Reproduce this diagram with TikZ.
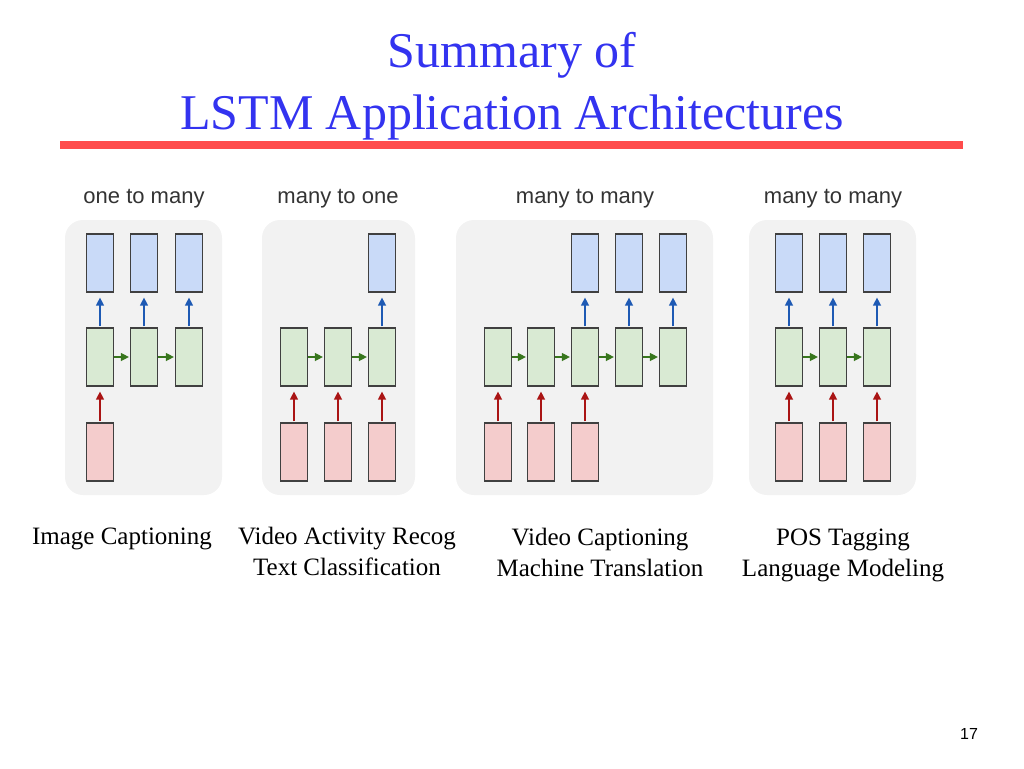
\documentclass[tikz,border=0pt]{standalone}
\usepackage{fontspec}
\setmainfont{Liberation Serif}
\setsansfont{Liberation Sans}
\usetikzlibrary{arrows.meta}
\definecolor{titleblue}{RGB}{51,51,240}
\definecolor{bluefill}{RGB}{201,218,248}
\definecolor{greenfill}{RGB}{217,234,211}
\definecolor{redfill}{RGB}{244,204,204}
\definecolor{panelgray}{RGB}{242,242,242}
\definecolor{arrblue}{RGB}{30,90,180}
\definecolor{arrgreen}{RGB}{56,118,29}
\definecolor{arrred}{RGB}{170,20,20}
\begin{document}
\begin{tikzpicture}[x=1pt, y=-1pt,
    cell/.style={draw=black!75, line width=1.2pt, minimum width=27pt, minimum height=58pt, inner sep=0pt},
    outcell/.style={cell, fill=bluefill},
    hidcell/.style={cell, fill=greenfill},
    inpcell/.style={cell, fill=redfill},
    panel/.style={fill=panelgray, rounded corners=18pt},
    up/.style={-{Triangle[length=8pt,width=8pt]}, line width=1.3pt, shorten <=1pt, shorten >=5pt},
    side/.style={-{Triangle[length=8pt,width=8pt]}, line width=1.3pt, color=arrgreen, shorten <=0pt, shorten >=1pt},
    head/.style={font=\sffamily\fontsize{22}{26}\selectfont, text=black!80},
    caption/.style={font=\fontsize{25}{31}\selectfont, align=center}]
  \useasboundingbox (0,0) rectangle (1024,768);
  % title
  \node[text=titleblue, font=\fontsize{50}{62}\selectfont, align=center] (title) at (512,86) {Summary of\\LSTM Application Architectures};
  \draw[color=red!70, line width=8pt] (60,145) -- (963,145);
  % panels
  \fill[panel] (65,220) rectangle (222,495);
  \fill[panel] (262,220) rectangle (415,495);
  \fill[panel] (456,220) rectangle (713,495);
  \fill[panel] (749,220) rectangle (916,495);
  \node[head] (h1) at (144,199) {one to many};
  \node[head] (h2) at (338,199) {many to one};
  \node[head] (h3) at (585,199) {many to many};
  \node[head] (h4) at (833,199) {many to many};
  % one to many
  \foreach \i/\x in {1/100,2/144,3/189} {
    \node[outcell] (a-o\i) at (\x,263) {};
    \node[hidcell] (a-h\i) at (\x,357) {};
    \draw[up, color=arrblue] (a-h\i) -- (a-o\i);
  }
  \node[inpcell] (a-i1) at (100,452) {};
  \draw[up, color=arrred] (a-i1) -- (a-h1);
  \draw[side] (a-h1) -- (a-h2);
  \draw[side] (a-h2) -- (a-h3);
  % many to one
  \foreach \i/\x in {1/294,2/338,3/382} {
    \node[hidcell] (b-h\i) at (\x,357) {};
    \node[inpcell] (b-i\i) at (\x,452) {};
    \draw[up, color=arrred] (b-i\i) -- (b-h\i);
  }
  \node[outcell] (b-o3) at (382,263) {};
  \draw[up, color=arrblue] (b-h3) -- (b-o3);
  \draw[side] (b-h1) -- (b-h2);
  \draw[side] (b-h2) -- (b-h3);
  % many to many (delayed)
  \foreach \i/\x in {1/498,2/541,3/585,4/629,5/673}
    \node[hidcell] (c-h\i) at (\x,357) {};
  \foreach \i in {1,2,3} {
    \node[inpcell] (c-i\i) at (c-h\i |- 0,452) {};
    \draw[up, color=arrred] (c-i\i) -- (c-h\i);
  }
  \foreach \i in {3,4,5} {
    \node[outcell] (c-o\i) at (c-h\i |- 0,263) {};
    \draw[up, color=arrblue] (c-h\i) -- (c-o\i);
  }
  \foreach \i/\j in {1/2,2/3,3/4,4/5}
    \draw[side] (c-h\i) -- (c-h\j);
  % many to many (synced)
  \foreach \i/\x in {1/789,2/833,3/877} {
    \node[outcell] (d-o\i) at (\x,263) {};
    \node[hidcell] (d-h\i) at (\x,357) {};
    \node[inpcell] (d-i\i) at (\x,452) {};
    \draw[up, color=arrblue] (d-h\i) -- (d-o\i);
    \draw[up, color=arrred] (d-i\i) -- (d-h\i);
  }
  \draw[side] (d-h1) -- (d-h2);
  \draw[side] (d-h2) -- (d-h3);
  % captions
  \node[caption, anchor=north] (c1) at (122,524) {Image Captioning};
  \node[caption, anchor=north] (c2) at (347,524) {Video Activity Recog\\Text Classification};
  \node[caption, anchor=north] (c3) at (600,525) {Video Captioning\\Machine Translation};
  \node[caption, anchor=north] (c4) at (843,525) {POS Tagging\\Language Modeling};
  \node[font=\sffamily\fontsize{16}{19}\selectfont] (page) at (969,734) {17};
\end{tikzpicture}
\end{document}
